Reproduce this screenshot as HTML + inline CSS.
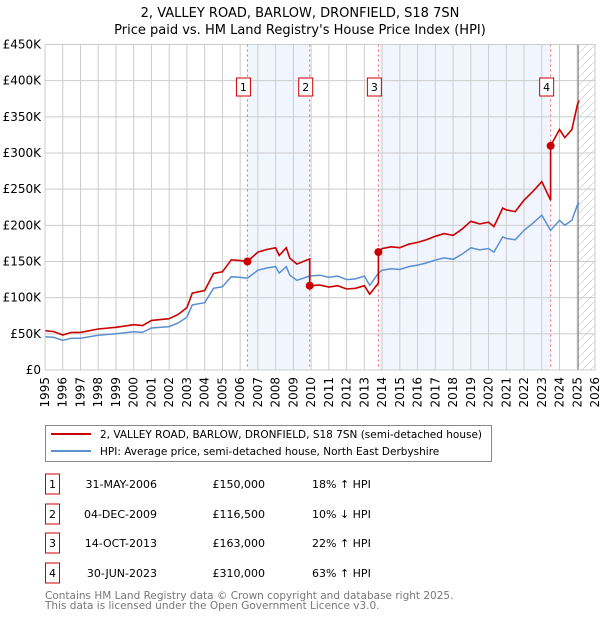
<!DOCTYPE html>
<html><head><meta charset="utf-8"><style>
body{margin:0;background:#fff;font-family:"DejaVu Sans","Liberation Sans",sans-serif;}
#wrap{position:relative;width:600px;height:620px;overflow:hidden;}
svg text{font-family:"DejaVu Sans","Liberation Sans",sans-serif;}
</style></head><body>
<div id="wrap">
<svg id="chart" width="600" height="620"></svg>
</div>
<script>
const years=[1995,1996,1997,1998,1999,2000,2001,2002,2003,2004,2005,2006,2007,2008,2009,2010,2011,2012,2013,2014,2015,2016,2017,2018,2019,2020,2021,2022,2023,2024,2025,2026];
const yTicks=[0,50000,100000,150000,200000,250000,300000,350000,400000,450000];
const yTickLabels=["£0","£50K","£100K","£150K","£200K","£250K","£300K","£350K","£400K","£450K"];
const hpiT=[1995,1995.5,1996,1996.5,1997,1998,1999,2000,2000.5,2001,2002,2002.5,2003,2003.3,2004,2004.5,2005,2005.5,2006,2006.41,2007,2007.5,2008,2008.2,2008.6,2008.8,2009.2,2009.92,2010.5,2011,2011.5,2012,2012.5,2013,2013.3,2013.79,2014,2014.5,2015,2015.5,2016,2016.5,2017,2017.5,2018,2018.5,2019,2019.5,2020,2020.3,2020.8,2021,2021.5,2022,2022.5,2023,2023.5,2024,2024.3,2024.7,2025,2025.1];
const hpiV=[46,45,41,44,44,48,50,53,52,58,60,65,73,90,93,113,115,129,128,127,138,141,143,134,143,131,124,130,131,128,130,125,126,130,117,134,138,140,139,143,145,148,152,155,153,160,169,166,168,163,184,182,180,193,203,214,193,207,200,207,228,232];
const saleDates=[2006.41,2009.92,2013.79,2023.5];
const salePrices=[150000,116500,163000,310000];
const saleLabels=["1","2","3","4"];
const saleDateText=["31-MAY-2006","04-DEC-2009","14-OCT-2013","30-JUN-2023"];
const salePriceText=["£150,000","£116,500","£163,000","£310,000"];
const saleHpiText=["18% ↑ HPI","10% ↓ HPI","22% ↑ HPI","63% ↑ HPI"];

const NS="http://www.w3.org/2000/svg";
const svg=document.getElementById('chart');
const L=45,R=595,T=44.5,B=370,x0=1995,x1=2026,yMax=450000;
const X=t=>L+(t-x0)/(x1-x0)*(R-L);
const Y=v=>B-v/yMax*(B-T);
function mk(tag,attrs,parent){const e=document.createElementNS(NS,tag);for(const k in attrs)e.setAttribute(k,attrs[k]);(parent||svg).appendChild(e);return e;}
function hpiAt(t){for(let i=1;i<hpiT.length;i++){if(t<=hpiT[i]){const f=(t-hpiT[i-1])/(hpiT[i]-hpiT[i-1]);return (hpiV[i-1]+f*(hpiV[i]-hpiV[i-1]))*1000;}}return hpiV[hpiV.length-1]*1000;}

let t1=mk('text',{x:300,y:17,'text-anchor':'middle','font-size':13,fill:'#000'});t1.textContent="2, VALLEY ROAD, BARLOW, DRONFIELD, S18 7SN";


let t2=mk('text',{x:300,y:34,'text-anchor':'middle','font-size':13,fill:'#000'});t2.textContent="Price paid vs. HM Land Registry's House Price Index (HPI)";



const shades=[[0,1],[2,3]];
shades.forEach(s=>{const r=mk('rect',{x:X(saleDates[s[0]]),y:T,width:X(saleDates[s[1]])-X(saleDates[s[0]]),height:B-T,fill:'#eef2fc',opacity:0.8});

});
const defs=mk('defs',{});
const pat=mk('pattern',{id:'hatch',width:8,height:8,patternUnits:'userSpaceOnUse'},defs);
mk('path',{d:'M0,8 L8,0',stroke:'#d0d0d0','stroke-width':0.7},pat);
const hx=X(2025.05);
const hr=mk('rect',{x:hx,y:T,width:R-hx,height:B-T,fill:'url(#hatch)'});



years.forEach(yr=>{const l=mk('line',{x1:X(yr),x2:X(yr),y1:T,y2:B,stroke:'#cccccc','stroke-width':1});


const tx=mk('text',{transform:`translate(${X(yr)+4},${B+7}) rotate(-90)`,'text-anchor':'end','font-size':12,fill:'#000'});tx.textContent=yr;

});
yTicks.forEach((v,i)=>{const l=mk('line',{x1:L,x2:R,y1:Y(v),y2:Y(v),stroke:'#cccccc','stroke-width':1});


const tx=mk('text',{x:L-4,y:Y(v)+4,'text-anchor':'end','font-size':12,fill:'#000'});tx.textContent=yTickLabels[i];

});
const vl=mk('line',{x1:hx,x2:hx,y1:T,y2:B,stroke:'#888','stroke-width':1.2});



saleDates.forEach(d=>{const l=mk('line',{x1:X(d),x2:X(d),y1:T,y2:B,stroke:'#ee6666','stroke-width':1,'stroke-dasharray':'2,3'});

});

let dh=hpiT.map((t,i)=>(i?'L':'M')+X(t).toFixed(1)+','+Y(hpiV[i]*1000).toFixed(1)).join(' ');
const hp=mk('path',{d:dh,fill:'none',stroke:'#5b8fd0','stroke-width':1.5});



const ratios=saleDates.map((d,i)=>salePrices[i]/hpiAt(d));
let pts=[];
function ratioAt(t){let r=ratios[0];for(let i=0;i<saleDates.length;i++)if(t>=saleDates[i])r=ratios[i];return r;}
let allT=hpiT.concat(saleDates).sort((a,b)=>a-b);
allT.forEach(t=>{
  const si=saleDates.indexOf(t);
  if(si>0){pts.push([t,hpiAt(t)*ratios[si-1]]);}
  pts.push([t,hpiAt(t)*ratioAt(t)]);
});
let dr=pts.map((p,i)=>(i?'L':'M')+X(p[0]).toFixed(1)+','+Y(p[1]).toFixed(1)).join(' ');
const rp=mk('path',{d:dr,fill:'none',stroke:'#cc0000','stroke-width':1.6});



saleDates.forEach((d,i)=>{
 const c=mk('circle',{cx:X(d),cy:Y(salePrices[i]),r:4,fill:'#cc0000'});
 
 
 const g=mk('g',{});
 
 
 mk('rect',{x:X(d)-11,y:78,width:14,height:18,fill:'#fff',stroke:'#cc0000','stroke-width':1},g);
 const tx=mk('text',{x:X(d)-4,y:91,'text-anchor':'middle','font-size':11,fill:'#000'},g);tx.textContent=saleLabels[i];
});

const ax=mk('rect',{x:L,y:T,width:R-L,height:B-T,fill:'none',stroke:'#cccccc'});



const lg=mk('g',{});


mk('rect',{x:45.5,y:425.5,width:446,height:36,fill:'#fff',stroke:'#888'},lg);
mk('line',{x1:51,x2:91,y1:434,y2:434,stroke:'#cc0000','stroke-width':2},lg);
mk('line',{x1:51,x2:91,y1:451,y2:451,stroke:'#5b8fd0','stroke-width':2},lg);
let le1=mk('text',{x:100,y:438,'font-size':10.5,fill:'#000'},lg);le1.textContent="2, VALLEY ROAD, BARLOW, DRONFIELD, S18 7SN (semi-detached house)";
let le2=mk('text',{x:100,y:455,'font-size':10.5,fill:'#000'},lg);le2.textContent="HPI: Average price, semi-detached house, North East Derbyshire";

const rowY=[484,514,543,573];
saleLabels.forEach((s,i)=>{
 const g=mk('g',{});
 
 
 mk('rect',{x:45.5,y:rowY[i]-10,width:14,height:20,fill:'#fff',stroke:'#cc0000'},g);
 let a=mk('text',{x:52.5,y:rowY[i]+4,'text-anchor':'middle','font-size':11},g);a.textContent=s;
 let b=mk('text',{x:157,y:rowY[i]+4,'text-anchor':'end','font-size':11},g);b.textContent=saleDateText[i];
 let c=mk('text',{x:265,y:rowY[i]+4,'text-anchor':'end','font-size':11},g);c.textContent=salePriceText[i];
 let e=mk('text',{x:312,y:rowY[i]+4,'font-size':11},g);e.textContent=saleHpiText[i];
});
let f1=mk('text',{x:45,y:599,'font-size':10.5,fill:'#777'});f1.textContent="Contains HM Land Registry data © Crown copyright and database right 2025.";


let f2=mk('text',{x:45,y:609,'font-size':10.5,fill:'#777'});f2.textContent="This data is licensed under the Open Government Licence v3.0.";


</script>
</body></html>
